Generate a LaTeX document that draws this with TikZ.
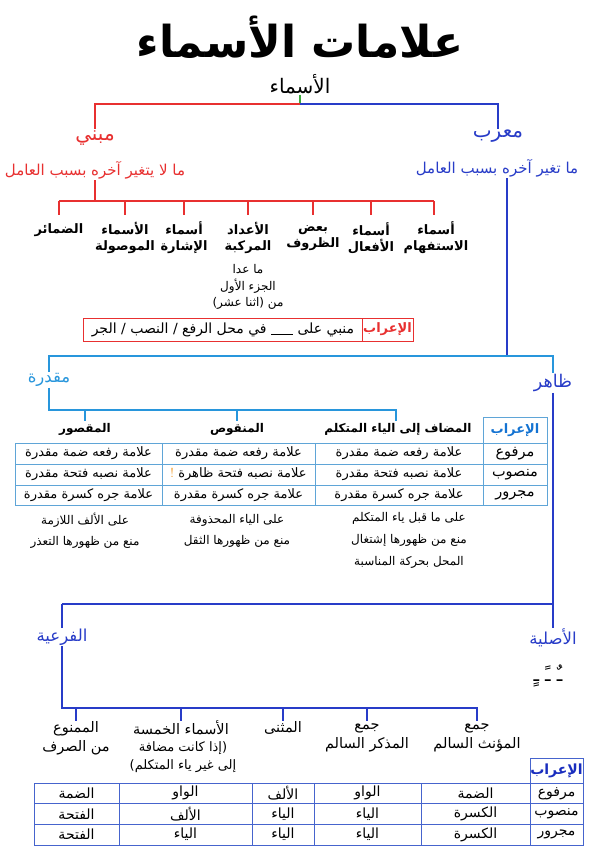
\documentclass[tikz,border=0pt]{standalone}
\usepackage{fontspec}
\newfontfamily\arabicfont[Script=Arabic]{DejaVu Sans}
\TeXXeTstate=1
\newcommand\AR[1]{{\arabicfont\beginR #1\endR}}
\definecolor{cred}{RGB}{232,48,48}
\definecolor{cblue}{RGB}{40,60,200}
\definecolor{clblue}{RGB}{40,150,220}
\definecolor{ctab}{RGB}{95,165,215}
\definecolor{ctabtxt}{RGB}{20,115,210}
\definecolor{cbtab}{RGB}{70,100,205}
\definecolor{cbtabtxt}{RGB}{25,45,190}
\definecolor{cgreen}{RGB}{60,170,60}
\definecolor{corange}{RGB}{240,150,30}
\begin{document}
\begin{tikzpicture}[x=1pt,y=-1pt,
  every node/.style={inner sep=1pt},
  f11/.style={font=\fontsize{11}{15}\selectfont},
  f12/.style={font=\fontsize{12}{16.5}\selectfont},
  f13/.style={font=\fontsize{13}{16}\selectfont},
  f13b/.style={font=\fontsize{13}{16}\selectfont\bfseries},
  f12b/.style={font=\fontsize{12}{16}\selectfont\bfseries},
  f15/.style={font=\fontsize{15}{18}\selectfont},
  f16/.style={font=\fontsize{16.5}{20}\selectfont},
  f20/.style={font=\fontsize{20}{24}\selectfont},
  lbl/.style={f13b, align=center},
  note/.style={f12, align=center},
  blbl/.style={font=\fontsize{14.5}{19}\selectfont, align=center},
  rowlbl/.style={font=\fontsize{14.5}{16}\selectfont},
  cell/.style={font=\fontsize{13}{15}\selectfont},
  bcell/.style={font=\fontsize{14}{16}\selectfont},
  lred/.style={draw=cred, line width=1.4pt},
  lblue/.style={draw=cblue, line width=1.4pt},
  llb/.style={draw=clblue, line width=1.4pt},
  lgreen/.style={draw=cgreen, line width=1.2pt},
  tabone/.style={draw=ctab, line width=0.9pt},
  tabtwo/.style={draw=cbtab, line width=0.9pt}
]
\useasboundingbox (0,0) rectangle (599,863);
\fill[white] (0,0) rectangle (599,863);

% title
\node[font=\fontsize{44}{52}\selectfont\bfseries] (title) at (300,37) {\AR{علامات الأسماء}};
\node[f20] (asma) at (300,84) {\AR{الأسماء}};
\coordinate (rootbus) at (300,104);
\draw[lgreen] (asma.south) -- (rootbus);

% mabni / murab
\node[f20, text=cred] (mabni) at (95,138) {\AR{مبني}};
\node[f15, text=cred] (mabnidef) at (95,170) {\AR{ما لا يتغير آخره بسبب العامل}};
\node[f20, text=cblue] (murab) at (498,136) {\AR{معرب}};
\node[f15, text=cblue] (murabdef) at (497,168) {\AR{ما تغير آخره بسبب العامل}};
\draw[lred] (rootbus) -| (mabni.north);
\draw[lblue] (rootbus) -| (murab.north);

% mabni categories
\coordinate (bonel) at (59,201);
\coordinate (boner) at (434,201);
\coordinate (tickone) at (0,215);
\node[lbl] (damair) at (59,230) {\AR{الضمائر}};
\node[lbl] (mawsula) at (125,238) {\AR{الأسماء}\\\AR{الموصولة}};
\node[lbl] (ishara) at (184,238) {\AR{أسماء}\\\AR{الإشارة}};
\node[lbl] (adad) at (248,238) {\AR{الأعداد}\\\AR{المركبة}};
\node[lbl] (zuruf) at (313,238) {\AR{بعض}\\\AR{الظروف}};
\node[lbl] (afal) at (371,238) {\AR{أسماء}\\\AR{الأفعال}};
\node[lbl] (istifham) at (436,238) {\AR{أسماء}\\\AR{الاستفهام}};
\node[note] (adadnote) at (248,287) {\AR{ما عدا}\\\AR{الجزء الأول}\\\AR{من (اثنا عشر)}};
\draw[lred] (mabnidef.south) -- (mabnidef.south |- bonel);
\draw[lred] (bonel) -- (boner);
\foreach \n in {damair,mawsula,ishara,adad,zuruf,afal}
  \draw[lred] (\n.north |- bonel) -- (\n.north |- tickone);
\draw[lred] (boner) -- (boner |- tickone);

% irab box (mabni)
\draw[draw=cred, line width=0.9pt] (83,318) rectangle (413,341);
\draw[draw=cred, line width=0.9pt] (362,318) -- (362,341);
\node[f13b, text=cred] (irabone) at (387.5,329.5) {\AR{الإعراب}};
\node[font=\fontsize{14}{16}\selectfont] (irabtext) at (223,329.5) {\AR{منبي على \rule[-1pt]{22pt}{0.6pt} في محل الرفع / النصب / الجر}};

% murab -> zahir / muqaddara
\coordinate (murabdown) at (507,356);
\coordinate (bthree) at (300,356);
\draw[lblue] (murabdef.south -| murabdown) -- (murabdown);
\node[f16, text=clblue] (muqaddara) at (49,380) {\AR{مقدرة}};
\node[font=\fontsize{17.5}{20}\selectfont, text=cblue] (zahir) at (553,383) {\AR{ظاهر}};
\draw[llb] (muqaddara.north) |- (bthree) -| (zahir.north);

% muqaddara sub
\coordinate (bfourl) at (49,410);
\coordinate (bfourr) at (396,410);
\coordinate (tickfour) at (0,421);
\node[f12b] (maqsur) at (85,429) {\AR{المقصور}};
\node[f12b] (manqus) at (237,429) {\AR{المنقوص}};
\node[f12b] (mudaf) at (398,429) {\AR{المضاف إلى الياء المتكلم}};
\draw[llb] (muqaddara.south) -- (bfourl) -- (bfourr) -- (bfourr |- tickfour);
\draw[llb] (maqsur.north |- bfourl) -- (maqsur.north |- tickfour);
\draw[llb] (manqus.north |- bfourl) -- (manqus.north |- tickfour);

% table one
\draw[tabone] (483,417) rectangle (547,443);
\node[f13b, text=ctabtxt] (irabtwo) at (515,430) {\AR{الإعراب}};
\draw[tabone] (15,443) rectangle (547,505);
\foreach \y in {464,485} \draw[tabone] (15,\y) -- (547,\y);
\foreach \x in {162,315,483} \draw[tabone] (\x,443) -- (\x,505);
\node[rowlbl] (rafone) at (515,453.5) {\AR{مرفوع}};
\node[rowlbl] (nasbone) at (515,474.5) {\AR{منصوب}};
\node[rowlbl] (jarrone) at (515,495) {\AR{مجرور}};
\node[cell] (ca) at (399,453.5) {\AR{علامة رفعه ضمة مقدرة}};
\node[cell] (cb) at (399,474.5) {\AR{علامة نصبه فتحة مقدرة}};
\node[cell] (cc) at (399,495) {\AR{علامة جره كسرة مقدرة}};
\node[cell] (cd) at (238.5,453.5) {\AR{علامة رفعه ضمة مقدرة}};
\node[cell] (ce) at (238.5,474.5) {{\color{corange}!}\ \AR{علامة نصبه فتحة ظاهرة}};
\node[cell] (cf) at (238.5,495) {\AR{علامة جره كسرة مقدرة}};
\node[cell] (cg) at (88.5,453.5) {\AR{علامة رفعه ضمة مقدرة}};
\node[cell] (ch) at (88.5,474.5) {\AR{علامة نصبه فتحة مقدرة}};
\node[cell] (ci) at (88.5,495) {\AR{علامة جره كسرة مقدرة}};

% notes under table
\node[note, font=\fontsize{12}{21}\selectfont] (notemaq) at (85,530.5) {\AR{على الألف اللازمة}\\\AR{منع من ظهورها التعذر}};
\node[note, font=\fontsize{12}{21}\selectfont] (notemanq) at (237,530.5) {\AR{على الياء المحذوفة}\\\AR{منع من ظهورها الثقل}};
\node[note, font=\fontsize{12}{22}\selectfont] (notemud) at (409,540) {\AR{على ما قبل ياء المتكلم}\\\AR{منع من ظهورها إشتغال}\\\AR{المحل بحركة المناسبة}};

% zahir -> asliya / fariya
\coordinate (bfiver) at (553,604);
\coordinate (bfivel) at (62,604);
\node[f16, text=cblue] (asliya) at (553,638) {\AR{الأصلية}};
\node[f16, text=cblue] (fariya) at (62,637) {\AR{الفرعية}};
\node[font=\fontsize{19}{22}\selectfont] (harakat) at (548,676) {\AR{ـٌ\ ـً\ ـٍ}};
\draw[lblue] (zahir.south) -- (bfiver) -- (bfivel);
\draw[lblue] (bfiver) -- (asliya.north);
\draw[lblue] (bfivel) -- (fariya.north);

% fariya categories
\coordinate (bsixl) at (62,708);
\coordinate (bsixr) at (477,708);
\coordinate (ticksix) at (0,721);
\node[blbl] (mamnu) at (76,738) {\AR{الممنوع}\\\AR{من الصرف}};
\node[blbl] (khamsa) at (181,728) {\AR{الأسماء الخمسة}};
\node[font=\fontsize{13}{18}\selectfont, align=center] (khamsanote) at (183,757) {\AR{(إذا كانت مضافة}\\\AR{إلى غير ياء المتكلم)}};
\node[blbl] (muthanna) at (283,728) {\AR{المثنى}};
\node[blbl] (mudhakkar) at (367,738) {\AR{جمع}\\\AR{المذكر السالم}};
\node[blbl] (muannath) at (477,738) {\AR{جمع}\\\AR{المؤنث السالم}};
\draw[lblue] (fariya.south) -- (bsixl) -- (bsixr) -- (bsixr |- ticksix);
\foreach \n in {mamnu,khamsa,muthanna,mudhakkar}
  \draw[lblue] (\n.north |- bsixl) -- (\n.north |- ticksix);

% table two
\draw[tabtwo] (530,758) rectangle (583,783);
\node[font=\fontsize{14}{16}\selectfont\bfseries, text=cbtabtxt] (irabthree) at (556.5,770.5) {\AR{الإعراب}};
\draw[tabtwo] (34,783) rectangle (583,845);
\foreach \y in {803.7,824.3} \draw[tabtwo] (34,\y) -- (583,\y);
\foreach \x in {119,252,314,421,530} \draw[tabtwo] (\x,783) -- (\x,845);
\node[bcell] (ra) at (556.5,793.3) {\AR{مرفوع}};
\node[bcell] (rb) at (556.5,814) {\AR{منصوب}};
\node[bcell] (rc) at (556.5,834.6) {\AR{مجرور}};
\node[bcell] (da) at (475.5,793.3) {\AR{الضمة}};
\node[bcell] (db) at (475.5,814) {\AR{الكسرة}};
\node[bcell] (dc) at (475.5,834.6) {\AR{الكسرة}};
\node[bcell] (ea) at (367.5,793.3) {\AR{الواو}};
\node[bcell] (eb) at (367.5,814) {\AR{الياء}};
\node[bcell] (ec) at (367.5,834.6) {\AR{الياء}};
\node[bcell] (fa) at (283,793.3) {\AR{الألف}};
\node[bcell] (fb) at (283,814) {\AR{الياء}};
\node[bcell] (fc) at (283,834.6) {\AR{الياء}};
\node[bcell] (ga) at (185.5,793.3) {\AR{الواو}};
\node[bcell] (gb) at (185.5,814) {\AR{الألف}};
\node[bcell] (gc) at (185.5,834.6) {\AR{الياء}};
\node[bcell] (ha) at (76.5,793.3) {\AR{الضمة}};
\node[bcell] (hb) at (76.5,814) {\AR{الفتحة}};
\node[bcell] (hc) at (76.5,834.6) {\AR{الفتحة}};
\end{tikzpicture}
\end{document}
